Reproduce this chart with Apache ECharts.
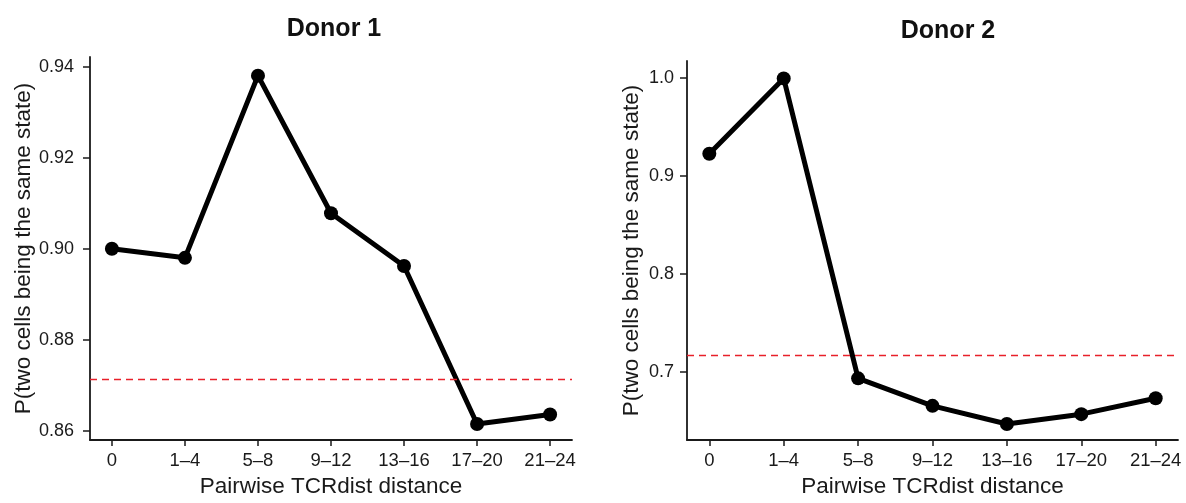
<!DOCTYPE html>
<html>
<head>
<meta charset="utf-8">
<script src="https://cdn.jsdelivr.net/npm/echarts@6/dist/echarts.min.js"></script>
<style>
html,body{margin:0;padding:0;background:#fff;}
#c{width:1186px;height:503px;}
</style>
</head>
<body>
<div id="c"></div>
<script>
const categories = ['0', '1\u20134', '5\u20138', '9\u201312', '13\u201316', '17\u201320', '21\u201324'];
const donor1Values = [0.900, 0.898, 0.938, 0.9078, 0.8962, 0.8615, 0.8636];
const donor2Values = [0.9225, 0.9995, 0.6931, 0.665, 0.6464, 0.6565, 0.6728];
const donor1Baseline = 0.8714;
const donor2Baseline = 0.717;
const donor1Ticks = [0.86, 0.88, 0.90, 0.92, 0.94];
const donor2Ticks = [0.7, 0.8, 0.9, 1.0];
const titles = ['Donor 1', 'Donor 2'];
const xName = 'Pairwise TCRdist distance';
const yName = 'P(two cells being the same state)';

const FONT = 'Liberation Sans, Arial, sans-serif';
const catIdx = categories.map((_, i) => i);

function xAxisCfg(gi, gap) {
  return {
    type: 'value', gridIndex: gi, min: -0.3, max: 6.3,
    name: xName, nameLocation: 'middle', nameGap: gap,
    nameTextStyle: {fontFamily: FONT, fontSize: 22.5, color: '#1a1a1a'},
    axisLine: {onZero: false, lineStyle: {color: '#1a1a1a', width: 1.8}},
    axisTick: {show: true, length: 6, lineStyle: {color: '#1a1a1a', width: 1.5}, customValues: catIdx},
    axisLabel: {customValues: catIdx, formatter: v => categories[Math.round(v)] || '',
      fontFamily: FONT, fontSize: 18.5, color: '#1a1a1a', margin: 11},
    splitLine: {show: false}
  };
}
function yAxisCfg(gi, min, max, ticks, dec, gap, margin) {
  return {
    type: 'value', gridIndex: gi, min: min, max: max,
    name: yName, nameLocation: 'middle', nameGap: gap, nameRotate: 90,
    nameTextStyle: {fontFamily: FONT, fontSize: 22.5, color: '#1a1a1a'},
    axisLine: {show: true, onZero: false, lineStyle: {color: '#1a1a1a', width: 1.8}},
    axisTick: {show: true, length: 7, lineStyle: {color: '#1a1a1a', width: 1.5}, customValues: ticks},
    axisLabel: {customValues: ticks, formatter: v => v.toFixed(dec),
      fontFamily: FONT, fontSize: 18, color: '#1a1a1a', margin: margin},
    splitLine: {show: false}
  };
}
function seriesCfg(gi, vals, base) {
  return {
    type: 'line', xAxisIndex: gi, yAxisIndex: gi,
    data: vals.map((v, i) => [i, v]),
    symbol: 'circle', symbolSize: 14,
    lineStyle: {color: '#000', width: 5},
    itemStyle: {color: '#000'},
    silent: true, animation: false,
    markLine: {
      silent: true, symbol: 'none', label: {show: false}, precision: 5,
      lineStyle: {color: '#e8202a', type: [7, 5], width: 1.4},
      data: [{yAxis: base}]
    }
  };
}

const chart = echarts.init(document.getElementById('c'), null, {renderer: 'canvas'});
chart.setOption({
  backgroundColor: '#fff',
  animation: false,
  title: [
    {text: titles[0], left: 329, top: 12, textAlign: 'center',
      textStyle: {fontFamily: FONT, fontSize: 25, fontWeight: 'bold', color: '#111'}},
    {text: titles[1], left: 943, top: 14, textAlign: 'center',
      textStyle: {fontFamily: FONT, fontSize: 25, fontWeight: 'bold', color: '#111'}}
  ],
  grid: [
    {left: 90, right: 614, top: 57, bottom: 63},
    {left: 687, right: 8, top: 61, bottom: 61}
  ],
  xAxis: [xAxisCfg(0, 32), xAxisCfg(1, 31)],
  yAxis: [
    yAxisCfg(0, 0.858, 0.9421, donor1Ticks, 2, 52, 16),
    yAxisCfg(1, 0.630, 1.0173, donor2Ticks, 1, 44, 13)
  ],
  series: [
    seriesCfg(0, donor1Values, donor1Baseline),
    seriesCfg(1, donor2Values, donor2Baseline)
  ]
});
</script>
</body>
</html>
